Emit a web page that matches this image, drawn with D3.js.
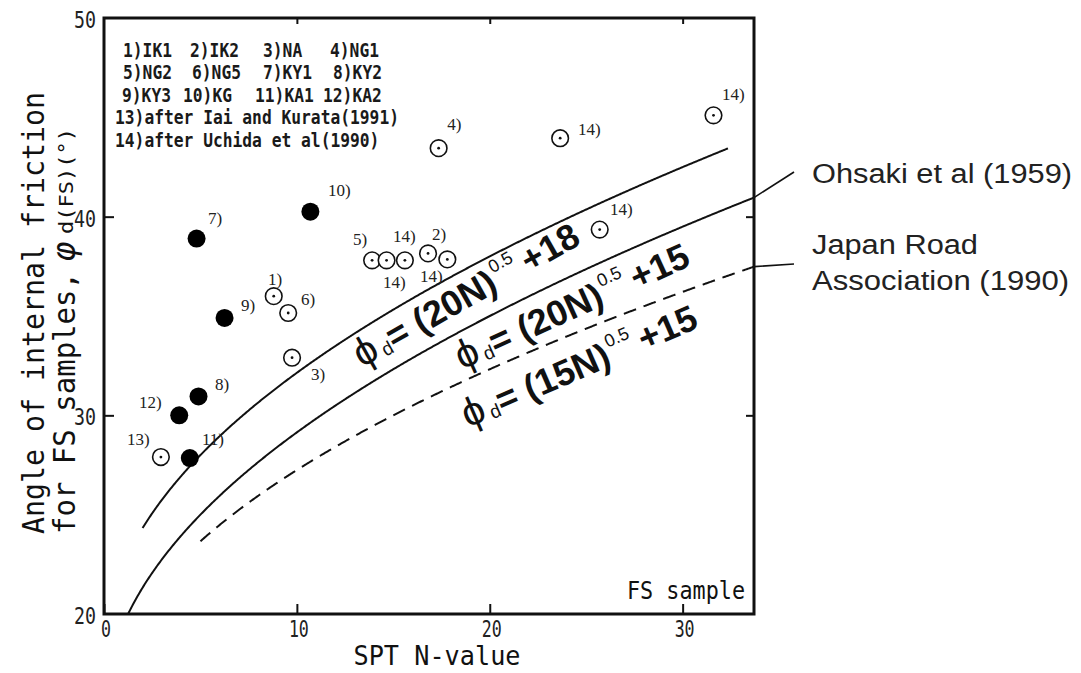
<!DOCTYPE html>
<html>
<head>
<meta charset="utf-8">
<script src="https://cdn.jsdelivr.net/npm/d3@7"></script>
<style>
  body { margin: 0; background: #fff; }
  svg { display: block; }
</style>
</head>
<body>
<script>
// ---- data ---------------------------------------------------------------
// Samples drawn as filled dots (KY1, KG, KY3, KY2, KA2, KA1)
const filledN   = [4.8, 10.7, 6.25, 4.9, 3.9, 4.45];
const filledPhi = [38.9, 40.25, 34.9, 30.95, 30.0, 27.85];

// Samples drawn as open circles with a centre dot
const openN   = [2.95, 8.8, 9.55, 9.75, 13.9, 14.65, 15.6, 16.8, 17.8, 17.35, 23.65, 31.6, 25.7];
const openPhi = [27.9, 36.0, 35.15, 32.9, 37.8, 37.8, 37.8, 38.15, 37.85, 43.45, 43.95, 45.1, 39.35];

// Point tags, anchored in data units (N, phi)
const tagText = ["7)", "10)", "9)", "8)", "12)", "11)", "13)", "1)", "6)", "3)", "5)",
                 "14)", "2)", "14)", "14)", "4)", "14)", "14)", "14)"];
const tagN   = [5.39, 11.61, 7.10, 5.75, 1.81, 5.08, 1.19, 8.50, 10.21, 10.73, 12.91,
                14.98, 17.0, 14.46, 16.38, 17.8, 24.57, 32.04, 26.23];
const tagPhi = [39.63, 41.04, 35.25, 31.28, 30.37, 28.51, 28.51, 36.56, 35.56, 31.78, 38.58,
                38.73, 38.83, 36.41, 36.71, 44.35, 44.11, 45.87, 40.09];

// Empirical relations phi_d = sqrt(k * N) + c
const curveK    = [20, 20, 15];
const curveC    = [18, 15, 15];
const curveFrom = [2.0, 1.25, 5.0];
const curveTo   = [32.35, 33.7, 33.7];
const curveDash = [false, false, true];

const xTicks = [0, 10, 20, 30];
const yTicks = [20, 30, 40, 50];

const legendRows = [
  ["1)IK1", "2)IK2", "3)NA", "4)NG1"],
  ["5)NG2", "6)NG5", "7)KY1", "8)KY2"],
  ["9)KY3", "10)KG", "11)KA1", "12)KA2"],
  ["13)after Iai and Kurata(1991)"],
  ["14)after Uchida et al(1990)"]
];

// ---- layout -------------------------------------------------------------
const W = 1081, H = 673;
const svg = d3.select("body").append("svg").attr("width", W).attr("height", H);

const x = d3.scaleLinear().domain([0, 33.7]).range([104, 754]);
const y = d3.scaleLinear().domain([20, 50]).range([614, 18]);

const mono = "'DejaVu Sans Mono', monospace";
const serif = "'Liberation Serif', 'DejaVu Serif', serif";
const sans = "'Liberation Sans', Arial, sans-serif";

// ---- axes (inward ticks on all four sides) -----------------------------
const tickLen = 10;
svg.append("g").attr("transform", `translate(0,${y(20)})`)
  .call(d3.axisBottom(x).tickValues(xTicks).tickSize(-tickLen).tickFormat(""))
  .call(g => g.select(".domain").remove());
svg.append("g").attr("transform", `translate(0,${y(50)})`)
  .call(d3.axisTop(x).tickValues(xTicks.slice(1)).tickSize(-6).tickFormat(""))
  .call(g => g.select(".domain").remove());
svg.append("g").attr("transform", `translate(${x(0)},0)`)
  .call(d3.axisLeft(y).tickValues(yTicks.slice(1, 3)).tickSize(-tickLen).tickFormat(""))
  .call(g => g.select(".domain").remove());
svg.append("g").attr("transform", `translate(${x(33.7)},0)`)
  .call(d3.axisRight(y).tickValues(yTicks.slice(1, 3)).tickSize(-8).tickFormat(""))
  .call(g => g.select(".domain").remove());
svg.selectAll(".tick line").attr("stroke", "#111").attr("stroke-width", 2);

// frame
svg.append("rect")
  .attr("x", x(0)).attr("y", y(50))
  .attr("width", x(33.7) - x(0)).attr("height", y(20) - y(50))
  .attr("fill", "none").attr("stroke", "#111").attr("stroke-width", 3);

// tick labels
svg.selectAll(".ylab").data(yTicks).enter().append("text")
  .attr("x", x(0) - 8).attr("y", d => y(d) + 10)
  .attr("text-anchor", "end")
  .attr("font-family", mono).attr("font-size", 23)
  .attr("textLength", 22).attr("lengthAdjust", "spacingAndGlyphs")
  .attr("fill", "#222").text(d => d);
svg.selectAll(".xlab").data(xTicks).enter().append("text")
  .attr("x", d => x(d) + 2).attr("y", y(20) + 23)
  .attr("text-anchor", "middle")
  .attr("font-family", mono).attr("font-size", 23)
  .attr("textLength", d => String(d).length * 10)
  .attr("lengthAdjust", "spacingAndGlyphs")
  .attr("fill", "#222").text(d => d);

// axis titles
svg.append("text")
  .attr("x", 437).attr("y", 665).attr("text-anchor", "middle")
  .attr("font-family", mono).attr("font-size", 27)
  .attr("textLength", 167).attr("lengthAdjust", "spacingAndGlyphs")
  .attr("fill", "#111").text("SPT N-value");

svg.append("text")
  .attr("transform", "translate(44,313) rotate(-90)")
  .attr("text-anchor", "middle")
  .attr("font-family", mono).attr("font-size", 31)
  .attr("textLength", 442).attr("lengthAdjust", "spacingAndGlyphs")
  .attr("fill", "#111").text("Angle of internal friction");

svg.append("text")
  .attr("transform", "translate(75,534) rotate(-90)")
  .attr("font-family", mono).attr("font-size", 31)
  .attr("textLength", 262).attr("lengthAdjust", "spacingAndGlyphs")
  .attr("fill", "#111").text("for FS samples,");
svg.append("text")
  .attr("transform", "translate(75,262) rotate(-90)")
  .attr("font-family", "'DejaVu Sans', sans-serif").attr("font-size", 31)
  .attr("font-style", "italic")
  .attr("fill", "#111").text("\u03C6");
svg.append("text")
  .attr("transform", "translate(73,234) rotate(-90)")
  .attr("font-family", mono).attr("font-size", 19)
  .attr("textLength", 106).attr("lengthAdjust", "spacingAndGlyphs")
  .attr("fill", "#111").text("d(FS)(\u00B0)");

// "FS sample" caption
svg.append("text")
  .attr("x", 627).attr("y", 599)
  .attr("font-family", mono).attr("font-size", 24)
  .attr("textLength", 118).attr("lengthAdjust", "spacingAndGlyphs")
  .attr("fill", "#111").text("FS sample");

// legend block: condensed monospace, 9.8 px per character
const legendCols = [[123, 190, 263, 330], [123, 192, 263, 333], [122, 183, 255, 323], [115], [115]];
const legendBase = [57, 79, 102, 124, 147];
const legendSquash = 9.8 / (0.602 * 20);
legendRows.forEach((row, r) => {
  svg.selectAll(null).data(row).enter().append("text")
    .attr("transform", (d, i) => `translate(${legendCols[r][i]},${legendBase[r]}) scale(${legendSquash},1)`)
    .attr("font-family", mono).attr("font-size", 20).attr("font-weight", "bold")
    .attr("fill", "#1a1a1a").text(d => d);
});

// ---- curves -------------------------------------------------------------
const line = d3.line().x(d => x(d[0])).y(d => y(d[1])).curve(d3.curveLinear);
curveK.forEach((k, i) => {
  const pts = d3.range(curveFrom[i], curveTo[i], 0.05).concat([curveTo[i]])
    .map(n => [n, Math.sqrt(k * n) + curveC[i]]);
  svg.append("path").datum(pts)
    .attr("d", line)
    .attr("fill", "none").attr("stroke", "#111").attr("stroke-width", 2)
    .attr("stroke-dasharray", curveDash[i] ? "13,8" : null);
});

// leader lines to the right-hand notes
const leaderEnds = [[1, 794, 172], [2, 794, 264]];
leaderEnds.forEach(([i, ex, ey]) => {
  const n = curveTo[i];
  svg.append("line")
    .attr("x1", x(n)).attr("y1", y(Math.sqrt(curveK[i] * n) + curveC[i]))
    .attr("x2", ex).attr("y2", ey)
    .attr("stroke", "#111").attr("stroke-width", 1.6);
});

// ---- equation labels along the curves ----------------------------------
function equation(tx, ty, angle, k, c) {
  const t = svg.append("text")
    .attr("transform", `translate(${tx},${ty}) rotate(${angle})`)
    .attr("font-family", sans).attr("fill", "#111");
  t.append("tspan").attr("font-size", 40).text("\u03D5");
  t.append("tspan").attr("font-size", 19).attr("dy", 2).attr("dx", 4).text("d");
  t.append("tspan").attr("font-size", 36).attr("font-weight", "bold").attr("dy", -2).text(`= (${k}N)`);
  t.append("tspan").attr("font-size", 18).attr("dy", -18).attr("dx", 2).text("0.5");
  t.append("tspan").attr("font-size", 36).attr("font-weight", "bold").attr("dy", 18).attr("dx", 7).text(`+${c}`);
}
equation(362, 368, -29.5, 20, 18);
equation(462, 370, -24.5, 20, 15);
equation(468, 428, -23.5, 15, 15);

// ---- right-hand notes ---------------------------------------------------
svg.append("text").attr("x", 812).attr("y", 183)
  .attr("font-family", sans).attr("font-size", 27)
  .attr("textLength", 260).attr("lengthAdjust", "spacingAndGlyphs")
  .attr("fill", "#222").text("Ohsaki et al (1959)");
svg.append("text").attr("x", 812).attr("y", 254)
  .attr("font-family", sans).attr("font-size", 27)
  .attr("textLength", 166).attr("lengthAdjust", "spacingAndGlyphs")
  .attr("fill", "#222").text("Japan Road");
svg.append("text").attr("x", 812).attr("y", 290)
  .attr("font-family", sans).attr("font-size", 27)
  .attr("textLength", 257).attr("lengthAdjust", "spacingAndGlyphs")
  .attr("fill", "#222").text("Association (1990)");

// ---- points -------------------------------------------------------------
const filled = filledN.map((n, i) => [n, filledPhi[i]]);
const open = openN.map((n, i) => [n, openPhi[i]]);

svg.selectAll(".dot").data(filled).enter().append("circle")
  .attr("cx", d => x(d[0])).attr("cy", d => y(d[1]))
  .attr("r", 9).attr("fill", "#000");

const og = svg.selectAll(".ring").data(open).enter().append("g")
  .attr("transform", d => `translate(${x(d[0])},${y(d[1])})`);
og.append("circle").attr("r", 8.3).attr("fill", "#fff").attr("stroke", "#111").attr("stroke-width", 1.6);
og.append("circle").attr("r", 1.4).attr("fill", "#111");

// point tags
svg.selectAll(".tag").data(tagText).enter().append("text")
  .attr("x", (d, i) => x(tagN[i])).attr("y", (d, i) => y(tagPhi[i]))
  .attr("font-family", serif).attr("font-size", 17)
  .attr("fill", "#222").text(d => d);
</script>
</body>
</html>
